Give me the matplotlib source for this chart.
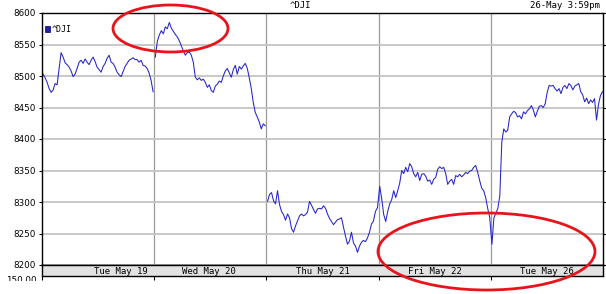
import numpy as np
import matplotlib
matplotlib.use('Agg')
import matplotlib.pyplot as plt
from matplotlib.patches import Ellipse, Rectangle

# Valores del ^DJI (cada dia, muestras equiespaciadas)
dia_19 = [8503, 8497, 8490, 8480, 8474, 8478, 8488, 8486, 8512, 8537, 8530, 8521,
          8518, 8514, 8508, 8499, 8503, 8512, 8522, 8525, 8520, 8527, 8522, 8518,
          8525, 8530, 8523, 8514, 8510, 8506, 8515, 8520, 8528, 8533, 8522, 8520,
          8514, 8506, 8502, 8499, 8507, 8515, 8520, 8525, 8527, 8529, 8526, 8526,
          8522, 8525, 8517, 8516, 8512, 8505, 8493, 8475]
dia_20 = [8530, 8555, 8565, 8572, 8567, 8578, 8575, 8585, 8576, 8571, 8566, 8562,
          8556, 8548, 8540, 8533, 8537, 8538, 8533, 8522, 8498, 8494, 8497, 8493,
          8495, 8490, 8482, 8486, 8477, 8474, 8484, 8487, 8492, 8490, 8500, 8508,
          8512, 8505, 8498, 8510, 8517, 8503, 8515, 8511, 8516, 8520, 8512, 8497,
          8480, 8458, 8442, 8435, 8427, 8416, 8424, 8421]
dia_21 = [8301, 8312, 8315, 8302, 8297, 8318, 8296, 8285, 8280, 8271, 8281, 8275,
          8258, 8252, 8262, 8270, 8278, 8281, 8278, 8280, 8284, 8301, 8295, 8288,
          8282, 8289, 8290, 8289, 8294, 8290, 8281, 8274, 8269, 8264, 8268, 8272,
          8273, 8275, 8260, 8246, 8233, 8238, 8252, 8235, 8230, 8220, 8230, 8236,
          8239, 8237, 8243, 8252, 8265, 8270, 8285, 8291]
dia_22 = [8325, 8305, 8280, 8269, 8285, 8297, 8304, 8318, 8307, 8318, 8330, 8350,
          8345, 8355, 8348, 8361, 8356, 8345, 8340, 8347, 8334, 8344, 8345, 8341,
          8333, 8335, 8328, 8336, 8339, 8352, 8356, 8353, 8355, 8345, 8328, 8333,
          8336, 8328, 8342, 8340, 8344, 8340, 8343, 8347, 8345, 8349, 8350, 8355,
          8358, 8347, 8334, 8322, 8318, 8307, 8290, 8276]
dia_26 = [8233, 8275, 8282, 8290, 8310, 8395, 8416, 8411, 8414, 8435, 8440, 8444,
          8442, 8435, 8437, 8432, 8443, 8440, 8445, 8448, 8453, 8446, 8435, 8444,
          8452, 8453, 8450, 8456, 8474, 8485, 8484, 8485, 8480, 8476, 8480, 8472,
          8482, 8485, 8480, 8488, 8485, 8478, 8484, 8486, 8488, 8475, 8470, 8459,
          8465, 8456, 8462, 8458, 8464, 8430, 8455, 8469, 8475]

dias = [dia_19, dia_20, dia_21, dia_22, dia_26]
etiquetas_dias = ['Tue May 19', 'Wed May 20', 'Thu May 21', 'Fri May 22', 'Tue May 26']
pos_etiquetas = [0.7, 1.49, 2.5, 3.5, 4.5]
y_ticks = [8200, 8250, 8300, 8350, 8400, 8450, 8500, 8550, 8600]

# tramos: los dias 21, 22 y 26 van unidos, los otros con hueco
tramos = [[0], [1], [2, 3, 4]]

W, H = 606, 294
fig = plt.figure(figsize=(W / 100, H / 100), dpi=100)

def caja(x0, y0, x1, y1):
    # rectangulo en pixeles (origen arriba a la izquierda) -> fraccion de figura
    return [x0 / W, 1 - y1 / H, (x1 - x0) / W, (y1 - y0) / H]

ax = fig.add_axes(caja(42, 13, 603, 265))
color_linea = '#2424c8'

for tramo in tramos:
    xs, ys = [], []
    for d in tramo:
        vals = dias[d]
        fin = 0.995 if d == 4 else 0.99
        xs.extend(d + np.linspace(0.01, fin, len(vals)))
        ys.extend(vals)
    ax.plot(xs, ys, color=color_linea, lw=0.75)

ax.set_xlim(0, 5)
ax.set_ylim(8200, 8600)
ax.set_yticks(y_ticks)
ax.set_yticklabels([str(v) for v in y_ticks], fontsize=6.3)
ax.set_xticks([1, 2, 3, 4])
ax.set_xticklabels([])
ax.tick_params(axis='x', length=0)
ax.tick_params(axis='y', length=2.5, width=0.8, pad=2, right=True)
ax.grid(axis='y', color='#c4c4c4', lw=1.3)
ax.grid(axis='x', color='#9a9a9a', lw=0.9)
for s in ax.spines.values():
    s.set_color('black')
    s.set_linewidth(1)

# leyenda
ax.add_patch(Rectangle((0.006, 0.925), 0.009, 0.022, transform=ax.transAxes,
                       facecolor='#2020b0', edgecolor='#000060', lw=0.5))
ax.text(0.018, 0.936, '^DJI', transform=ax.transAxes, fontsize=6,
        family='DejaVu Sans Mono', va='center', ha='left')

# banda gris con los dias
banda = fig.add_axes(caja(42, 265, 603, 276))
banda.set_facecolor('#e2e2e2')
banda.set_xlim(0, 5)
banda.set_ylim(0, 1)
banda.set_yticks([])
banda.set_xticks([0, 1, 2, 3, 4])
banda.set_xticklabels([])
banda.tick_params(axis='x', length=3, width=0.8, direction='out')
for s in banda.spines.values():
    s.set_color('black')
    s.set_linewidth(1)
for pos, et in zip(pos_etiquetas, etiquetas_dias):
    banda.text(pos, 0.45, et, fontsize=6.5, family='DejaVu Sans Mono',
               ha='center', va='center')

# titulo y hora
fig.text(300 / W, 1 - 5 / H, '^DJI', fontsize=6.5, family='DejaVu Sans Mono',
         ha='center', va='center')
fig.text(600 / W, 1 - 5 / H, '26-May 3:59pm', fontsize=6.5,
         family='DejaVu Sans Mono', ha='right', va='center')

# etiqueta cortada del panel de volumen (se tapa la mitad de abajo)
fig.text(37 / W, 1 - 276 / H, '150.00', fontsize=6.3, ha='right', va='top')
fig.add_artist(Rectangle((0, 0), 40 / W, 1 - 281 / H, transform=fig.transFigure,
                         facecolor='white', edgecolor='none', zorder=5))

# elipses rojas de anotacion
for cx, cy, w, h in [(170.5, 28.5, 115, 47), (486.5, 251.5, 217, 77)]:
    fig.add_artist(Ellipse((cx / W, 1 - cy / H), w / W, h / H,
                           transform=fig.transFigure, fill=False,
                           edgecolor='#e8141c', lw=2.0, zorder=6))

fig.savefig('out.png', dpi=100)
